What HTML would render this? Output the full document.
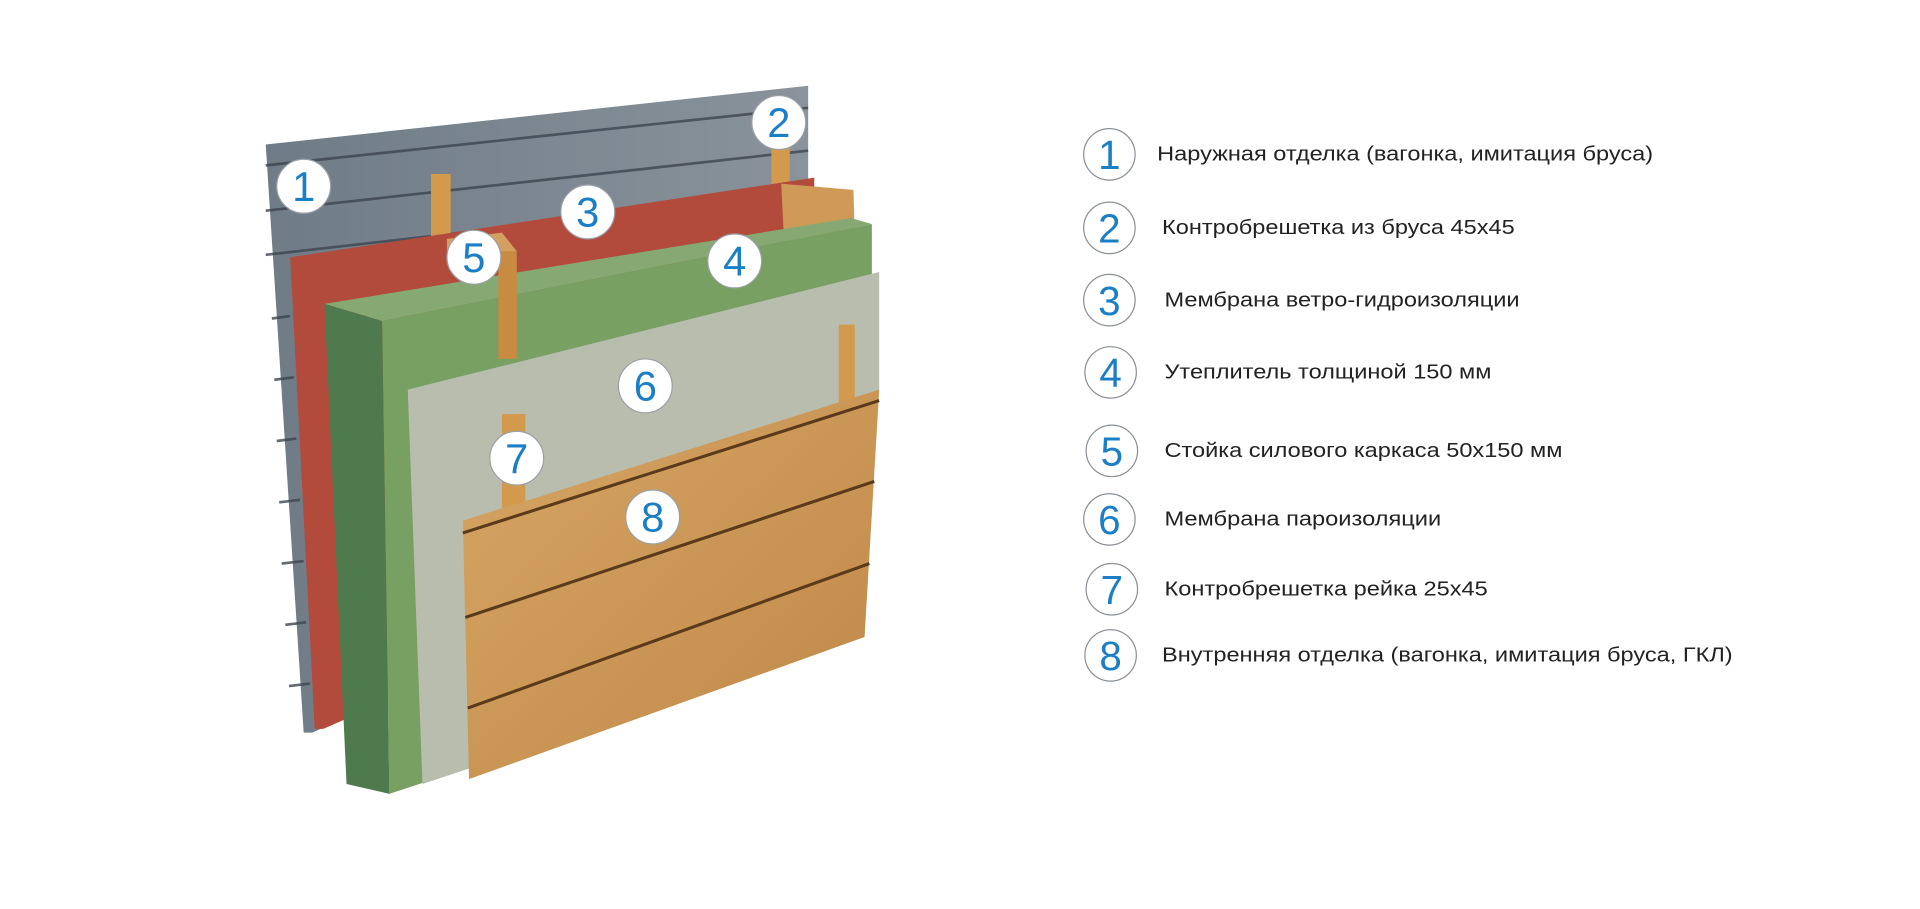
<!DOCTYPE html>
<html><head><meta charset="utf-8"><style>html,body{margin:0;padding:0;background:#fff}svg{display:block}</style></head>
<body>
<svg width="1920" height="909" viewBox="0 0 1568 742" preserveAspectRatio="none" xmlns="http://www.w3.org/2000/svg">
<defs>
<linearGradient id="gw" x1="0" y1="0" x2="1" y2="0"><stop offset="0" stop-color="#6f7b86"/><stop offset="1" stop-color="#8a939b"/></linearGradient>
<linearGradient id="wd" x1="0" y1="0" x2="1" y2="1"><stop offset="0" stop-color="#d6a664"/><stop offset="1" stop-color="#bf8748"/></linearGradient>
</defs>
<rect width="1568" height="742" fill="#fff"/>
<polygon points="217,118 660,70 660,420 255,598 248,598" fill="url(#gw)"/>
<g stroke="#3e4650" stroke-width="2.2" opacity="0.8">
<line x1="217" y1="135" x2="660" y2="88"/><line x1="217" y1="172" x2="660" y2="123"/><line x1="217" y1="208" x2="660" y2="158"/>
<line x1="222" y1="260" x2="237" y2="258"/><line x1="224" y1="310" x2="240" y2="308"/><line x1="226" y1="360" x2="242" y2="358"/><line x1="228" y1="410" x2="245" y2="408"/><line x1="230" y1="460" x2="248" y2="458"/><line x1="233" y1="510" x2="250" y2="508"/><line x1="236" y1="560" x2="253" y2="558"/>
</g>
<rect x="352" y="142" width="16" height="80" fill="#d39a4e"/>
<rect x="630" y="112" width="15" height="40" fill="#d39a4e"/>
<polygon points="237,210 665,145 665,420 264,595 257,595" fill="#b34b3c"/>
<polygon points="638,150 697,155 700,265 685,268 640,190" fill="#cf9a58"/>
<polygon points="265,248 695,178 712,183 312,262" fill="#86a872"/>
<polygon points="312,262 712,183 712,330 706,520 318,648" fill="#78a062"/>
<polygon points="265,248 312,262 318,648 283,640" fill="#4f7a4d"/>
<polygon points="365,195 410,190 422,205 408,212 365,215" fill="#d4a060"/>
<rect x="407" y="205" width="15" height="88" fill="#c98b42"/>
<polygon points="333,318 718,222 718,318 706,520 345,640" fill="#b9bdae"/>
<rect x="685" y="265" width="13" height="68" fill="#d39a4e"/>
<rect x="410" y="338" width="19" height="82" fill="#d39a4e"/>
<polygon points="378,425 718,318 706,520 383,636" fill="url(#wd)"/>
<g stroke="#5a3a1a" stroke-width="2.5">
<line x1="378" y1="435" x2="718" y2="327"/><line x1="380" y1="504" x2="714" y2="393"/><line x1="382" y1="578" x2="710" y2="460"/>
</g>
<g fill="#fff" stroke="#9aa0a6" stroke-width="1">
<circle cx="248" cy="152" r="22"/><circle cx="636" cy="100" r="22"/><circle cx="480" cy="173" r="22"/><circle cx="387" cy="210" r="22"/>
<circle cx="600" cy="213" r="22"/><circle cx="527" cy="315" r="22"/><circle cx="422" cy="374" r="22"/><circle cx="533" cy="422" r="22"/>
</g>
<g fill="#1b7fc6" font-family="Liberation Sans, sans-serif" font-size="34" text-anchor="middle">
<text x="248" y="164">1</text><text x="636" y="112">2</text><text x="480" y="185">3</text><text x="387" y="222">5</text>
<text x="600" y="225">4</text><text x="527" y="327">6</text><text x="422" y="386">7</text><text x="533" y="434">8</text>
</g>
<g fill="#fff" stroke="#8a9096" stroke-width="1">
<circle cx="906" cy="126" r="21"/><circle cx="906" cy="186" r="21"/><circle cx="906" cy="245" r="21"/><circle cx="907" cy="304" r="21"/>
<circle cx="908" cy="368" r="21"/><circle cx="906" cy="424" r="21"/><circle cx="908" cy="481" r="21"/><circle cx="907" cy="535" r="21"/>
</g>
<g fill="#1b7fc6" font-family="Liberation Sans, sans-serif" font-size="33" text-anchor="middle">
<text x="906" y="138">1</text><text x="906" y="198">2</text><text x="906" y="257">3</text><text x="907" y="316">4</text>
<text x="908" y="380">5</text><text x="906" y="436">6</text><text x="908" y="493">7</text><text x="907" y="547">8</text>
</g>
<g fill="#222" font-family="Liberation Sans, sans-serif" font-size="16.5">
<text x="945" y="131" textLength="405" lengthAdjust="spacingAndGlyphs">Наружная отделка (вагонка, имитация бруса)</text>
<text x="949" y="191" textLength="288" lengthAdjust="spacingAndGlyphs">Контробрешетка из бруса 45х45</text>
<text x="951" y="250" textLength="290" lengthAdjust="spacingAndGlyphs">Мембрана ветро-гидроизоляции</text>
<text x="951" y="309" textLength="267" lengthAdjust="spacingAndGlyphs">Утеплитель толщиной 150 мм</text>
<text x="951" y="373" textLength="325" lengthAdjust="spacingAndGlyphs">Стойка силового каркаса 50х150 мм</text>
<text x="951" y="429" textLength="226" lengthAdjust="spacingAndGlyphs">Мембрана пароизоляции</text>
<text x="951" y="486" textLength="264" lengthAdjust="spacingAndGlyphs">Контробрешетка рейка 25х45</text>
<text x="949" y="540" textLength="466" lengthAdjust="spacingAndGlyphs">Внутренняя отделка (вагонка, имитация бруса, ГКЛ)</text>
</g>
</svg>
</body></html>
